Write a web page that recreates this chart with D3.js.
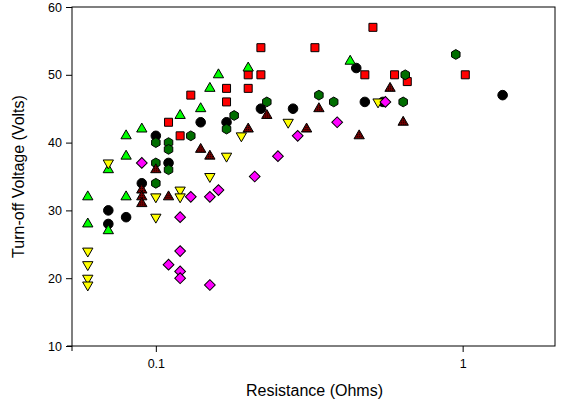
<!DOCTYPE html>
<html>
<head>
<meta charset="utf-8">
<script src="https://cdn.jsdelivr.net/npm/d3@7"></script>
<style>
  body { margin: 0; background: #fff; }
  text { font-family: "Liberation Sans", Arial, sans-serif; }
</style>
</head>
<body>
<svg id="chart" width="564" height="413"></svg>
<script>
// values: [resistance, voltage]
const blackCircles = [[0.07,30],[0.07,28],[0.08,29],[0.09,34],[0.1,41],[0.11,37],[0.14,43],[0.17,43],
  [0.22,45],[0.28,45],[0.45,51],[0.48,46],[0.55,46],[1.35,47]]
const redSquares = [[0.11,43],[0.12,41],[0.13,47],[0.17,48],[0.17,46],[0.2,50],[0.2,48],[0.22,54],
  [0.22,50],[0.33,54],[0.48,50],[0.51,57],[0.6,50],[0.66,49],[1.02,50]]
const greenTriangles = [[0.06,32],[0.06,28],[0.07,36],[0.07,27],[0.08,41],[0.08,38],[0.08,32],[0.09,42],
  [0.12,44],[0.14,45],[0.15,48],[0.16,50],[0.2,51],[0.43,52]]
const yellowTriangles = [[0.06,24],[0.06,22],[0.06,20],[0.06,19],[0.07,37],[0.1,32],[0.1,29],[0.12,33],
  [0.12,32],[0.15,35],[0.17,38],[0.19,41],[0.27,43],[0.53,46]]
const darkGreenHexes = [[0.1,40],[0.11,40],[0.11,39],[0.13,41],[0.1,37],[0.11,36],[0.1,34],[0.17,42],
  [0.18,44],[0.23,46],[0.34,47],[0.38,46],[0.64,46],[0.65,50],[0.95,53]]
const magentaDiamonds = [[0.09,37],[0.11,22],[0.12,29],[0.12,24],[0.12,21],[0.12,20],[0.13,32],[0.15,32],
  [0.15,19],[0.16,33],[0.21,35],[0.25,38],[0.29,41],[0.39,43],[0.56,46]]
const maroonTriangles = [[0.09,33],[0.09,32],[0.09,31],[0.1,36],[0.11,32],[0.14,39],[0.15,38],[0.2,42],
  [0.23,44],[0.31,42],[0.34,45],[0.46,41],[0.58,48],[0.64,43]]

const xTicks = [0.1, 1]
const yTicks = [10, 20, 30, 40, 50, 60]

const svg = d3.select("#chart")
const plotL = 72, plotR = 555, plotT = 7, plotB = 346

const x = d3.scaleLog().domain([0.0533, 2]).range([plotL, plotR])
const y = d3.scaleLinear().domain([10, 60]).range([plotB, plotT])

// pattern for the hatched dark red triangles
const defs = svg.append("defs")
const pat = defs.append("pattern").attr("id", "hatch")
  .attr("width", 2).attr("height", 2).attr("patternUnits", "userSpaceOnUse")
pat.append("rect").attr("width", 2).attr("height", 2).attr("fill", "#7a0000")
pat.append("rect").attr("width", 1).attr("height", 1).attr("fill", "#000")

const hexagon = {
  draw(ctx, size) {
    const r = Math.sqrt(size / (1.5 * Math.sqrt(3)))
    for (let i = 0; i < 6; i++) {
      const a = Math.PI / 6 + i * Math.PI / 3
      if (i === 0) ctx.moveTo(r * Math.cos(a), r * Math.sin(a))
      else ctx.lineTo(r * Math.cos(a), r * Math.sin(a))
    }
    ctx.closePath()
  }
}

// frame
svg.append("rect")
  .attr("x", plotL).attr("y", plotT)
  .attr("width", plotR - plotL).attr("height", plotB - plotT)
  .attr("fill", "none").attr("stroke", "#000").attr("stroke-width", 1)

const xAxis = svg.append("g")
  .attr("transform", `translate(0,${plotB})`)
  .call(d3.axisBottom(x).tickValues(xTicks).tickFormat(d3.format("")).tickSize(6).tickPadding(7))
const yAxis = svg.append("g")
  .attr("transform", `translate(${plotL},0)`)
  .call(d3.axisLeft(y).tickValues(yTicks).tickSize(6).tickPadding(4))

for (const ax of [xAxis, yAxis]) {
  ax.select(".domain").remove()
  ax.selectAll("text").attr("font-size", 12.5).attr("fill", "#000")
    .style("font-family", "'Liberation Sans', Arial, sans-serif")
  ax.selectAll("line").attr("stroke", "#000")
}
xAxis.append("line").attr("x1", plotL - 5).attr("x2", plotL).attr("stroke", "#000")
yAxis.append("line").attr("y1", 0).attr("y2", 5).attr("transform", `translate(0,${plotB})`).attr("stroke", "#000")

const series = [
  { data: blackCircles, type: d3.symbolCircle, size: 72, fill: "#000", rot: 0 },
  { data: redSquares, type: d3.symbolSquare, size: 64, fill: "#ff0000", rot: 0 },
  { data: greenTriangles, type: d3.symbolTriangle, size: 46, fill: "#00ff00", rot: 0 },
  { data: yellowTriangles, type: d3.symbolTriangle, size: 46, fill: "#ffff00", rot: 180 },
  { data: darkGreenHexes, type: hexagon, size: 62, fill: "#006e00", rot: 0 },
  { data: magentaDiamonds, type: d3.symbolSquare, size: 58, fill: "#ff00ff", rot: 45 },
  { data: maroonTriangles, type: d3.symbolTriangle, size: 46, fill: "url(#hatch)", rot: 0 },
]

series.forEach(s => {
  svg.append("g")
    .selectAll("path")
    .data(s.data)
    .enter()
    .append("path")
    .attr("d", d3.symbol().type(s.type).size(s.size))
    .attr("transform", d => `translate(${x(d[0])},${y(d[1])}) rotate(${s.rot})`)
    .attr("fill", s.fill)
    .attr("stroke", "#000")
    .attr("stroke-width", 1)
})

svg.append("text")
  .attr("x", (plotL + plotR) / 2 + 1).attr("y", 396)
  .attr("text-anchor", "middle").attr("font-size", 16)
  .text("Resistance (Ohms)")

svg.append("text")
  .attr("transform", `translate(24,${(plotT + plotB) / 2}) rotate(-90)`)
  .attr("text-anchor", "middle").attr("font-size", 16)
  .text("Turn-off Voltage (Volts)")
</script>
</body>
</html>
